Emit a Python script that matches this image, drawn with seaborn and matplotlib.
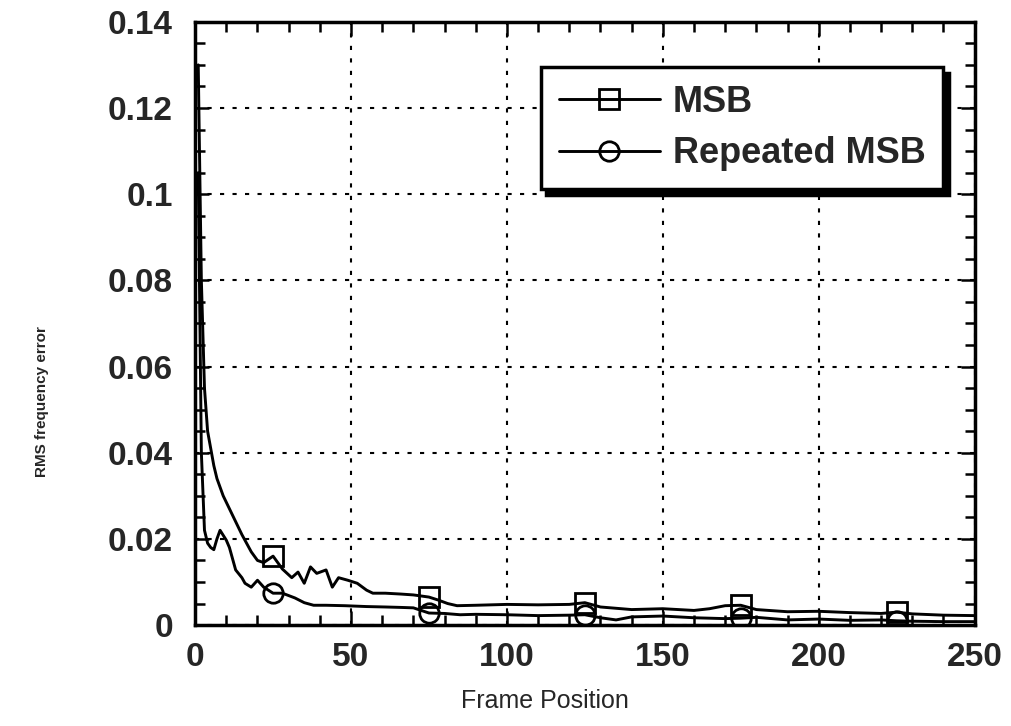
import matplotlib
matplotlib.use("Agg")
import matplotlib.pyplot as plt
from matplotlib.ticker import MultipleLocator, FuncFormatter
import seaborn as sns

# Frame position vs RMS frequency error
msb_x = [1, 2, 3, 4, 5, 6, 7, 8, 9, 11, 13, 15, 18, 20, 22, 25, 28, 31, 33, 35,
         37, 39, 42, 44, 46, 49, 52, 55, 57, 61, 66, 70, 75, 78, 81, 84, 90, 100,
         110, 120, 125, 130, 140, 150, 160, 165, 170, 175, 180, 190, 200, 210,
         220, 225, 230, 240, 250]
msb_y = [0.13, 0.08, 0.055, 0.045, 0.041, 0.037, 0.034, 0.032, 0.030, 0.027,
         0.024, 0.021, 0.017, 0.015, 0.0145, 0.016, 0.013, 0.011, 0.0123, 0.0097,
         0.0135, 0.012, 0.0128, 0.0088, 0.011, 0.0104, 0.0097, 0.0081, 0.0074,
         0.0074, 0.0072, 0.007, 0.0065, 0.0058, 0.005, 0.0045, 0.0046, 0.0048,
         0.0047, 0.0048, 0.0052, 0.0042, 0.0036, 0.0038, 0.0034, 0.0038, 0.0045,
         0.0046, 0.0036, 0.0031, 0.0032, 0.0029, 0.0027, 0.0030, 0.0026, 0.0023,
         0.0022]

rep_x = [1, 2, 3, 4, 5, 6, 7, 8, 10, 11, 13, 15, 16, 18, 20, 22, 25, 28, 32, 35,
         38, 42, 48, 55, 61, 66, 70, 75, 80, 85, 90, 100, 110, 120, 125, 130, 135,
         140, 150, 160, 170, 175, 180, 190, 200, 210, 220, 225, 230, 240, 250]
rep_y = [0.105, 0.04, 0.022, 0.019, 0.018, 0.0175, 0.02, 0.022, 0.0197, 0.018,
         0.0128, 0.011, 0.0097, 0.0088, 0.0104, 0.0088, 0.0074, 0.0074, 0.0063,
         0.0052, 0.0046, 0.0046, 0.0045, 0.0043, 0.0042, 0.0041, 0.004, 0.0028,
         0.0027, 0.0024, 0.0025, 0.0024, 0.0022, 0.0023, 0.0024, 0.0017, 0.0012,
         0.0019, 0.0021, 0.0017, 0.0015, 0.0016, 0.0018, 0.0012, 0.0014, 0.0011,
         0.0012, 0.001, 0.0009, 0.0008, 0.0008]

marker_x = [25, 75, 125, 175, 225]
labels = ["MSB", "Repeated MSB"]

sns.set_style("ticks")
plt.rcParams["font.family"] = ["Liberation Sans", "DejaVu Sans"]

fig, ax = plt.subplots(figsize=(10.11, 7.26), dpi=100)
fig.subplots_adjust(left=0.193, right=0.964, top=0.970, bottom=0.139)

for xs, ys, mk, lab in [(msb_x, msb_y, "s", labels[0]), (rep_x, rep_y, "o", labels[1])]:
    sns.lineplot(
        x=xs, y=ys, ax=ax, color="black", linewidth=2.1, label=lab,
        marker=mk, markersize=14, markerfacecolor="none", markeredgecolor="black",
        markeredgewidth=2.0, markevery=[xs.index(v) for v in marker_x],
    )

ax.set_xlim(0, 250)
ax.set_ylim(0, 0.14)
ax.xaxis.set_major_locator(MultipleLocator(50))
ax.xaxis.set_minor_locator(MultipleLocator(10))
ax.yaxis.set_major_locator(MultipleLocator(0.02))
ax.yaxis.set_minor_locator(MultipleLocator(0.005))
ax.yaxis.set_major_formatter(FuncFormatter(lambda v, p: f"{v:g}"))

ax.grid(which="major", color="black", linestyle=(0, (2, 4)), linewidth=1.5)
ax.tick_params(which="both", direction="in", top=True, right=True, color="black", width=1.8)
ax.tick_params(which="major", length=10, labelsize=24)
ax.tick_params(which="minor", length=7)
ax.tick_params(axis="x", pad=12)
ax.tick_params(axis="y", pad=16)
for t in ax.get_xticklabels() + ax.get_yticklabels():
    t.set_fontweight("bold")
for s in ax.spines.values():
    s.set_visible(True)
    s.set_linewidth(2.5)
    s.set_color("black")

ax.set_xlabel("Frame Position", fontsize=18)
ax.xaxis.set_label_coords(0.449, -0.106)
ax.set_ylabel("RMS frequency error", fontsize=11, fontweight="bold")
ax.yaxis.set_label_coords(-0.188, 0.37)

leg = ax.legend(
    loc="upper right", bbox_to_anchor=(0.96, 0.925), borderaxespad=0,
    prop={"weight": "bold", "size": 26}, handlelength=2.8,
    fancybox=False, framealpha=1, edgecolor="black",
    shadow={"ox": 4, "oy": -4, "color": "black", "alpha": 1},
    borderpad=0.5, labelspacing=0.45, handletextpad=0.35,
)
leg.get_frame().set_linewidth(2.5)

fig.savefig("out.png", dpi=100)
